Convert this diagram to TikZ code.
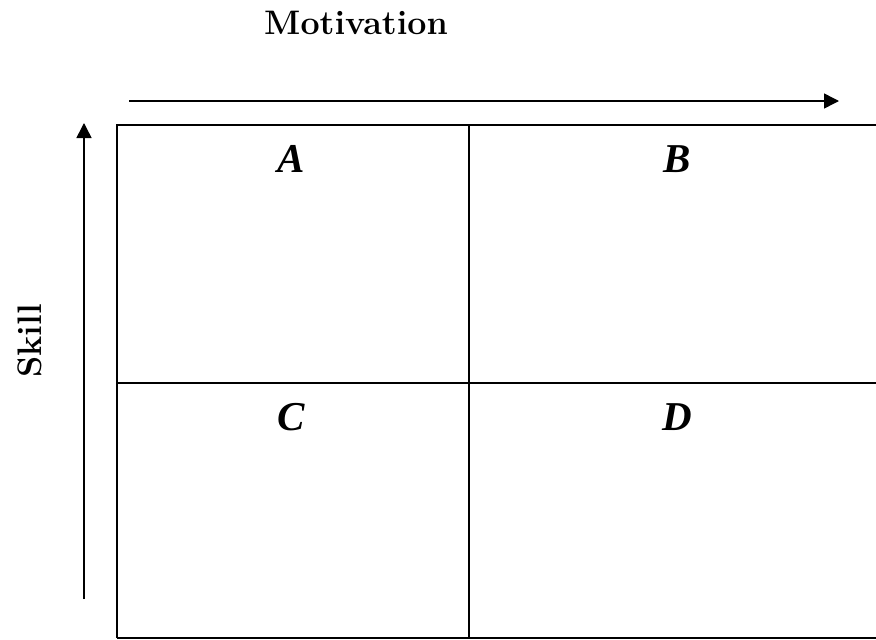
\documentclass[tikz,border=0pt]{standalone}
\usepackage{fontspec}
\newfontfamily\cellfont{Liberation Serif}
\usetikzlibrary{arrows.meta}
\begin{document}
\begin{tikzpicture}[x=1pt,y=-1pt,
  grid/.style={line width=2.4pt},
  axis/.style={line width=1.5pt,-{Triangle[length=15pt,width=15pt]}},
  axislabel/.style={font=\fontsize{34}{40}\selectfont\bfseries,inner sep=0pt},
  cell/.style={font=\cellfont\fontsize{41}{46}\selectfont\bfseries\itshape,inner sep=0pt,anchor=base}]
\useasboundingbox (0,0) rectangle (876,640);
\clip (0,0) rectangle (876,640);
% grid
\draw[grid] (117,638) -- (117,125) -- (880,125);
\draw[grid] (117,638) -- (880,638);
\draw[grid] (469,125) -- (469,638);
\draw[grid] (117,383) -- (880,383);
% axes
\coordinate (mx0) at (129,101);
\coordinate (mx1) at (839,101);
\coordinate (sy0) at (84,599);
\coordinate (sy1) at (84,123);
\draw[axis] (mx0) -- (mx1);
\draw[axis] (sy0) -- (sy1);
% labels
\node[axislabel] (motivation) at (356,23) {Motivation};
\node[axislabel,rotate=90] (skill) at (30,341) {Skill};
\node[cell] (A) at (291,172) {A};
\node[cell] (B) at (677,172) {B};
\node[cell] (C) at (291,430) {C};
\node[cell] (D) at (677,430) {D};
\end{tikzpicture}
\end{document}
